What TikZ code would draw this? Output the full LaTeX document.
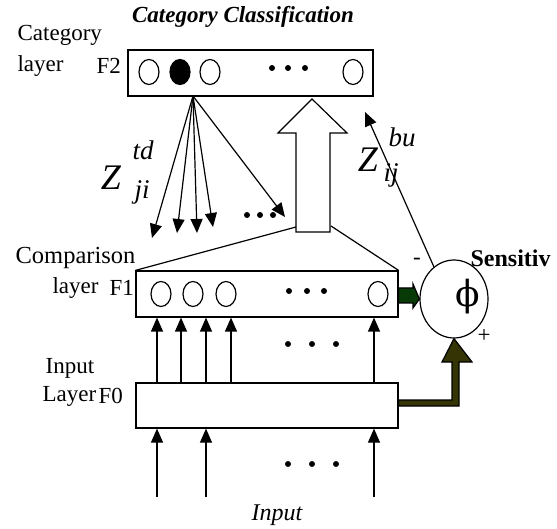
\documentclass[tikz,border=0pt]{standalone}
\usepackage{fontspec}
\setmainfont{Liberation Serif}
\newfontfamily\greekfont{DejaVu Serif}
\usetikzlibrary{shapes.geometric,arrows.meta}
\definecolor{darkgreen}{RGB}{8,58,8}
\definecolor{darkolive}{RGB}{52,52,4}
\tikzset{
  lbl/.style={font=\fontsize{23}{26}\selectfont, inner sep=0},
  zlbl/.style={font=\fontsize{27}{30}\selectfont\itshape, inner sep=0},
  unit/.style={draw, ellipse, minimum width=20, minimum height=25, inner sep=0},
  layerbox/.style={draw, minimum height=46, inner sep=0},
  arr/.style={-{Triangle[length=14pt,width=12pt]}},
}
\begin{document}
\begin{tikzpicture}[x=1pt, y=-1pt, line width=1.2pt]
\useasboundingbox (0,0) rectangle (557,529);

% layers
\node[layerbox, minimum width=245] (F2) at (250.5,73) {};
\node[layerbox, minimum width=262] (F1) at (267,294) {};
\node[layerbox, minimum width=262, minimum height=45] (F0) at (267,405.5) {};
\node[draw, ellipse, minimum width=68, minimum height=78, inner sep=0] (S) at (454,299) {};
\node[inner sep=0, font=\fontsize{36}{38}\selectfont\greekfont] (phi) at (468,297) {ϕ};

% units
\node[unit] (a1) at (149,72) {};
\node[unit, fill=black] (a2) at (180,72) {};
\node[unit] (a3) at (210,72) {};
\node[unit] (an) at (353,72) {};
\node[unit] (b1) at (161,294) {};
\node[unit] (b2) at (193,294) {};
\node[unit] (b3) at (226,294) {};
\node[unit] (bn) at (378,294) {};

% dots
\foreach \x in {272,288,305} \fill (\x,68) circle (3);
\foreach \x in {289,307,324} \fill (\x,291) circle (3);
\foreach \x in {288,312,336} \fill (\x,344) circle (3);
\foreach \x in {288,312,336} \fill (\x,464) circle (3);
\foreach \x in {247,260,273} \fill (\x,215) circle (3);

% top-down weights
\coordinate (fan) at (193,96);
\draw[arr] (fan) -- (152,238);
\draw[arr] (fan) -- (177,233);
\draw[arr] (fan) -- (197,233);
\draw[arr] (fan) -- (213,227);
\draw[arr] (fan) -- (285,217);

% bottom-up
\draw (F1.north west) -- (296,227);
\draw (331,226) -- (F1.north east);
\draw[fill=white] (296,232) -- (296,133) -- (278,133) -- (312,99) -- (347,133) -- (330,133) -- (330,232) -- cycle;

% F0 to F1
\foreach \x in {157,181,206,231,374}
  \draw[arr] (\x,0 |- F0.north) -- (\x,0 |- F1.south);
% input
\foreach \x in {157,206,374}
  \draw[arr] (\x,497) -- (\x,0 |- F0.south);

% to sensitivity
\draw[fill=darkgreen] (F1.east |- 0,288) -- (413,288) -- (413,284) -- (S.west) -- (413,308) -- (413,303) -- (F1.east |- 0,303) -- cycle;
\draw[fill=darkolive] (F0.east |- 0,400) -- (452,400) -- (452,362) -- (442,362) -- (S.south) -- (472,362) -- (459,362) -- (459,406) -- (F0.east |- 0,406) -- cycle;
\draw[arr] (S.122) -- (365,112);

% labels
\node[lbl, font=\fontsize{23}{26}\selectfont\bfseries\itshape] (title) at (243,17) {Category Classification};
\node[lbl, anchor=west] (c1) at (17,35) {Category};
\node[lbl, anchor=west] (c2) at (17,66) {layer};
\node[lbl, anchor=west] (c3) at (96,66) {F2};
\node[lbl, anchor=west, font=\fontsize{24.5}{27}\selectfont] (m1) at (15,258) {Comparison};
\node[lbl, anchor=west] (m2) at (52,288) {layer};
\node[lbl, anchor=west] (m3) at (109,288) {F1};
\node[lbl, anchor=west] (i1) at (45,368) {Input};
\node[lbl, anchor=west] (i2) at (42,396) {Layer};
\node[lbl, anchor=west] (i3) at (98,396) {F0};
\node[lbl, anchor=west, font=\fontsize{24}{26}\selectfont\bfseries] (sl) at (470,258) {Sensitiv};
\node[lbl] (minus) at (417,261) {-};
\node[lbl] (plus) at (484,336) {+};
\node[lbl, font=\fontsize{24}{26}\selectfont\itshape] (inp) at (277,515) {Input};
\node[zlbl, font=\fontsize{36}{38}\selectfont\itshape] (ztd) at (111,178) {Z};
\node[zlbl] (td) at (143,150) {td};
\node[zlbl] (ji) at (142,192) {ji};
\node[zlbl, font=\fontsize{36}{38}\selectfont\itshape] (zbu) at (368,160) {Z};
\node[zlbl] (bu) at (402,137) {bu};
\node[zlbl] (ij) at (391,175) {ij};
\end{tikzpicture}
\end{document}
